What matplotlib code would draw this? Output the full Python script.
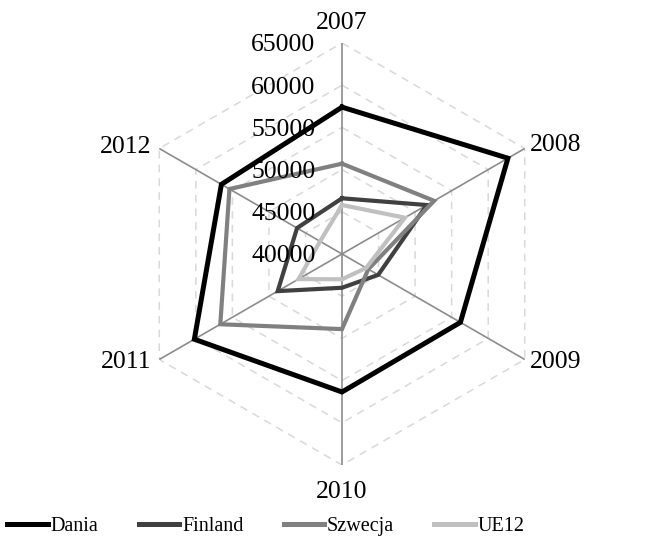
import numpy as np
import matplotlib.pyplot as plt

plt.rcParams['font.family'] = ['Liberation Serif', 'DejaVu Serif']

# Data
years = ['2007', '2008', '2009', '2010', '2011', '2012']
dania = [57400, 62700, 56200, 56350, 60200, 56500]
finland = [46600, 51600, 44950, 44000, 48800, 46150]
szwecja = [50700, 52600, 43600, 48900, 56650, 55400]
ue12 = [45800, 48600, 43300, 43000, 45950, 43000]
ticks = [40000, 45000, 50000, 55000, 60000, 65000]

series = [('Dania', dania, '#000000', 3.6),
          ('Finland', finland, '#404040', 3.0),
          ('Szwecja', szwecja, '#808080', 3.0),
          ('UE12', ue12, '#c0c0c0', 3.0)]

fig = plt.figure(figsize=(6.65, 5.38), dpi=100)
ax = fig.add_axes([0.197, 0.1357, 0.6346, 0.7844], projection='polar')
ax.set_theta_zero_location('N')
ax.set_theta_direction(-1)
ax.set_ylim(ticks[0], ticks[-1])
ax.grid(False)
ax.spines['polar'].set_visible(False)
ax.set_xticks([])
ax.set_yticks([])

theta = np.deg2rad(np.arange(len(years)) * 360 / len(years))
theta_c = np.append(theta, theta[0])

# hexagonal grid rings and spokes
for v in ticks[1:]:
    ax.plot(theta_c, [v] * len(theta_c), color='#d9d9d9', lw=1.1,
            ls=(0, (5, 4)), zorder=1)
for t in theta:
    ax.plot([t, t], [ticks[0], ticks[-1]], color='#8c8c8c', lw=1.2, zorder=2)

for name, vals, col, lw in series:
    ax.plot(theta_c, vals + vals[:1], color=col, lw=lw, label=name,
            solid_joinstyle='miter', zorder=3)

# radial value labels
for v in ticks:
    ax.annotate(str(v), xy=(0, v), xytext=(-19, 0), textcoords='offset points',
                ha='right', va='center_baseline', fontsize=18.5, zorder=4)

# category labels
offsets = [(0, 16, 'center'), (4, 4, 'left'), (4, 0, 'left'),
           (0, -18, 'center'), (-6, 0, 'right'), (-6, 3, 'right')]
for t, lab, (dx, dy, ha) in zip(theta, years, offsets):
    ax.annotate(lab, xy=(t, ticks[-1]), xytext=(dx, dy), textcoords='offset points',
                ha=ha, va='center_baseline', fontsize=18.5, annotation_clip=False)

leg = fig.legend(loc='lower left', bbox_to_anchor=(0.008, 0.0), ncol=4, frameon=False,
                 fontsize=14.5, handlelength=2.0, handletextpad=0.15, columnspacing=2.0,
                 borderpad=0.1, borderaxespad=0)
for h in leg.legend_handles:
    h.set_linewidth(3.6)

fig.savefig('out.png', dpi=100)
